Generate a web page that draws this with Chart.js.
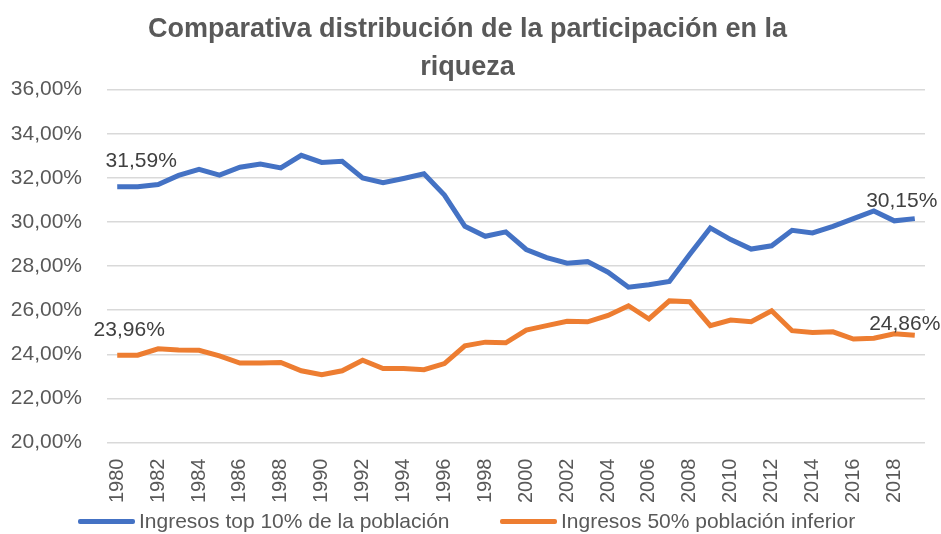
<!DOCTYPE html>
<html>
<head>
<meta charset="utf-8">
<script src="https://cdn.jsdelivr.net/npm/chart.js@4.4.0/dist/chart.umd.min.js"></script>
<style>
  body { margin: 0; background: #fff; font-family: 'Liberation Sans', Arial, sans-serif; }
  #wrap { position: relative; width: 941px; height: 534px; }
  #legend { position: absolute; left: 0; top: 508px; width: 941px; height: 26px; }
  .item { position: absolute; top: 0; display: flex; align-items: center; height: 26px; color: #595959; font-size: 21px; white-space: nowrap; }
  .swatch { width: 57px; height: 5px; margin-right: 4px; border-radius: 2px; }
</style>
</head>
<body>
<div id="wrap">
  <canvas id="chart" width="941" height="514"></canvas>
  <div id="legend"></div>
</div>
<script>
// years 1980 - 2019
const years = [];
for (let y = 1980; y <= 2019; y++) years.push(String(y));

const top10 = [31.59, 31.60, 31.70, 32.11, 32.38, 32.12, 32.48, 32.63, 32.45, 33.02,
  32.70, 32.75, 32.00, 31.78, 31.97, 32.18, 31.22, 29.80, 29.35, 29.55,
  28.75, 28.38, 28.13, 28.20, 27.72, 27.04, 27.15, 27.30, 28.53, 29.73,
  29.20, 28.77, 28.92, 29.62, 29.50, 29.80, 30.15, 30.50, 30.05, 30.15];

const bottom50 = [23.96, 23.96, 24.25, 24.19, 24.18, 23.93, 23.60, 23.61, 23.63, 23.25,
  23.07, 23.25, 23.73, 23.35, 23.35, 23.30, 23.58, 24.38, 24.55, 24.52,
  25.10, 25.30, 25.50, 25.47, 25.76, 26.20, 25.60, 26.42, 26.38, 25.30,
  25.55, 25.48, 25.97, 25.07, 24.99, 25.02, 24.69, 24.73, 24.93, 24.86];

const seriesNames = ["Ingresos top 10% de la población", "Ingresos 50% población inferior"];
const seriesColors = ["#4472C4", "#ED7D31"];
const yTicks = { min: 20, max: 36, step: 2 };

const FONT = "'Liberation Sans', Arial, sans-serif";

function pct(v) {
  return v.toFixed(2).replace(".", ",") + "%";
}

// labels on first and last point of each series
const endLabels = {
  id: "endLabels",
  afterDatasetsDraw(chart) {
    const ctx = chart.ctx;
    const spots = [
      { ds: 0, i: 0, dx: 24, dy: -26 },
      { ds: 0, i: 39, dx: -13, dy: -17 },
      { ds: 1, i: 0, dx: 12, dy: -25 },
      { ds: 1, i: 39, dx: -10, dy: -11 }
    ];
    ctx.save();
    ctx.font = "21px " + FONT;
    ctx.fillStyle = "#404040";
    ctx.textAlign = "center";
    ctx.textBaseline = "middle";
    spots.forEach(s => {
      const pt = chart.getDatasetMeta(s.ds).data[s.i];
      const val = chart.data.datasets[s.ds].data[s.i];
      ctx.fillText(pct(val), pt.x + s.dx, pt.y + s.dy);
    });
    ctx.restore();
  }
};

new Chart(document.getElementById("chart"), {
  type: "line",
  data: {
    labels: years,
    datasets: [{
      label: seriesNames[0],
      data: top10,
      borderColor: seriesColors[0],
      backgroundColor: seriesColors[0],
      borderWidth: 5,
      pointRadius: 0,
      tension: 0
    }, {
      label: seriesNames[1],
      data: bottom50,
      borderColor: seriesColors[1],
      backgroundColor: seriesColors[1],
      borderWidth: 5,
      pointRadius: 0,
      tension: 0
    }]
  },
  options: {
    responsive: false,
    animation: false,
    layout: { padding: { left: 10, right: 16, top: 0, bottom: 3 } },
    plugins: {
      title: {
        display: true,
        text: ["Comparativa distribución de la participación en la", "riqueza"],
        color: "#595959",
        font: { family: FONT, size: 27, weight: "bold", lineHeight: 1.4 },
        padding: { top: 11, bottom: 3 }
      },
      legend: { display: false },
      tooltip: { enabled: false }
    },
    scales: {
      x: {
        offset: true,
        grid: { display: false },
        border: { display: false },
        ticks: {
          color: "#595959",
          font: { family: FONT, size: 20 },
          autoSkip: false,
          minRotation: 90,
          maxRotation: 90,
          padding: 8,
          callback: function (v, i) { return i % 2 === 0 ? years[i] : null; }
        }
      },
      y: {
        min: yTicks.min,
        max: yTicks.max,
        border: { display: false },
        grid: { color: "#d9d9d9", lineWidth: 1.5, drawTicks: false },
        afterFit: function (scale) { scale.width = 97; },
        ticks: {
          stepSize: yTicks.step,
          color: "#595959",
          padding: 25,
          font: { family: FONT, size: 21 },
          callback: v => pct(v)
        }
      }
    }
  },
  plugins: [endLabels]
});

// legend under the chart
const legendX = [78, 500];
const legend = document.getElementById("legend");
seriesNames.forEach((name, i) => {
  legend.innerHTML += `
    <div class="item" style="left:${legendX[i]}px">
      <span class="swatch" style="background:${seriesColors[i]}"></span>${name}
    </div>`;
});
</script>
</body>
</html>
